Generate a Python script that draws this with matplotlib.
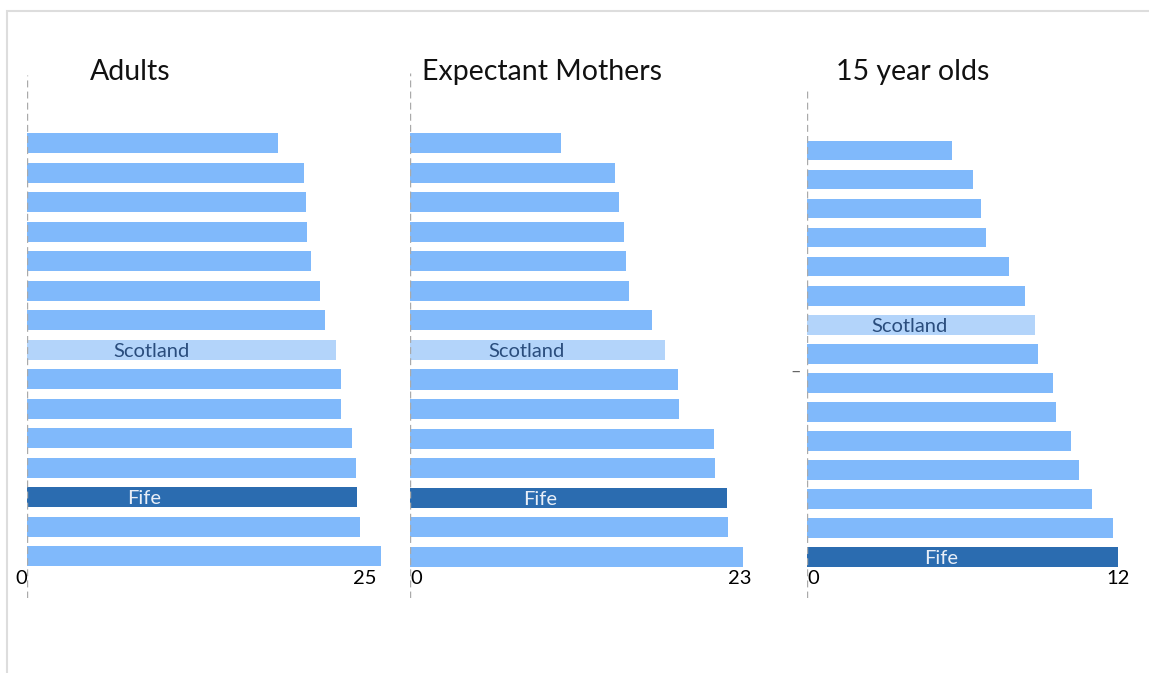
import matplotlib
matplotlib.use('Agg')
from matplotlib import pyplot as plt
from matplotlib.patches import Rectangle

plt.rcParams['font.family'] = ['Lato', 'DejaVu Sans']

# values, top bar first
adults = [17.9, 19.8, 19.9, 20.0, 20.3, 20.9, 21.3, 22.1, 22.4, 22.4,
          23.2, 23.5, 23.6, 23.8, 25.3]
mothers = [10.5, 14.3, 14.6, 14.9, 15.1, 15.3, 16.9, 17.8, 18.7, 18.8,
           21.2, 21.3, 22.1, 22.2, 23.2]
teens = [5.6, 6.4, 6.7, 6.9, 7.8, 8.4, 8.8, 8.9, 9.5, 9.6,
         10.2, 10.5, 11.0, 11.8, 12.0]

titles = ['Adults', 'Expectant Mothers', '15 year olds']
series = [adults, mothers, teens]
scotland_idx = [7, 7, 6]
fife_idx = [12, 12, 14]
max_ticks = ['25', '23', '12']
max_tick_vals = [25, 23, 12]

BAR = '#80b9fb'
SCOT = '#b3d4fa'
FIFE = '#2b6cb0'

W, H = 1149, 673


def px_box(left, top, right, bottom):
    return [left / W, 1 - bottom / H, (right - left) / W, (bottom - top) / H]


# panel geometry in pixels: left, top, right, bottom, xmax, ylim
panels = [
    dict(box=px_box(27, 75, 391, 598), xmax=26.0, ylim=(15.42, -2.31),
         title_x=90, zero_ha='right', max_ha='right',
         scot_x=8.9, fife_x=8.4),
    dict(box=px_box(410, 73, 754, 598), xmax=24.0, ylim=(15.39, -2.37),
         title_x=422, zero_ha='left', max_ha='center',
         scot_x=8.15, fife_x=9.1),
    dict(box=px_box(807, 88, 1131, 598), xmax=12.5, ylim=(15.41, -2.15),
         title_x=836, zero_ha='left', max_ha='center',
         scot_x=3.97, fife_x=5.17),
]


def plot_panel(fig, i):
    p = panels[i]
    values = series[i]
    ax = fig.add_axes(p['box'])
    ax.patch.set_alpha(0)
    colors = [BAR] * len(values)
    colors[scotland_idx[i]] = SCOT
    colors[fife_idx[i]] = FIFE
    ax.barh(range(len(values)), values, height=0.68, color=colors)
    ax.set_xlim(0, p['xmax'])
    ax.set_ylim(*p['ylim'])
    ax.axvline(0, color='#aaaaaa', lw=1, ls=(0, (5, 3)))
    for s in ax.spines.values():
        s.set_visible(False)
    ax.set_yticks([])
    ax.set_xticks([0, max_tick_vals[i]])
    ax.set_xticklabels(['0', max_ticks[i]], fontsize=14.5)
    ax.tick_params(axis='x', length=0, pad=-20)
    labels = ax.get_xticklabels()
    labels[0].set_ha(p['zero_ha'])
    labels[1].set_ha(p['max_ha'])
    ax.text(p['scot_x'], scotland_idx[i] + 0.05, 'Scotland', ha='center',
            va='center', fontsize=14.5, color='#2a4d7d')
    ax.text(p['fife_x'], fife_idx[i] + 0.05, 'Fife', ha='center',
            va='center', fontsize=14.5, color='#e8eef7')
    fig.text(p['title_x'] / W, 1 - 72 / H, titles[i], fontsize=20.5,
             ha='left', va='center', color='#111111')
    return ax


def main():
    fig = plt.figure(figsize=(W / 100, H / 100), dpi=100)
    fig.patches.append(Rectangle((7 / W, -0.1), 1.2, 1 - 11 / H + 0.1,
                                 transform=fig.transFigure, fill=False,
                                 edgecolor='#dddddd', lw=1.5))
    axes = [plot_panel(fig, i) for i in range(3)]
    axes[2].text(-0.02, 0.443, '\u2013', transform=axes[2].transAxes,
                 ha='right', va='center', fontsize=13, color='#666666')
    fig.savefig('out.png', dpi=100)


if __name__ == "__main__":
    main()
